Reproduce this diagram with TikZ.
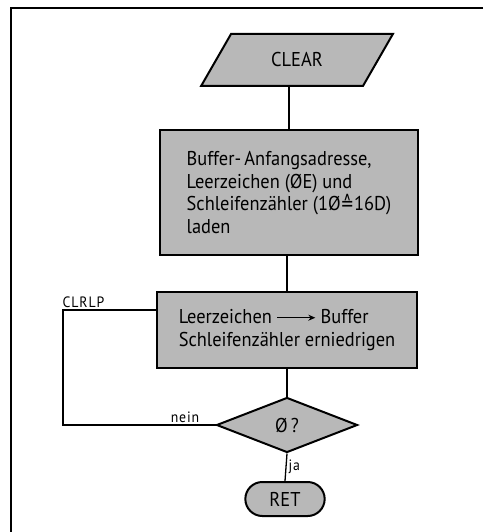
\documentclass[tikz,border=0pt]{standalone}
\usepackage{fontspec}
\setmainfont{PT Sans}[FakeStretch=0.92]
\newfontfamily\symfont{DejaVu Sans}[FakeStretch=0.8]
\usetikzlibrary{calc}
\usetikzlibrary{positioning}
\usetikzlibrary{arrows.meta}
\usetikzlibrary{shapes.geometric}
\usetikzlibrary{shapes.misc}
\definecolor{boxgray}{gray}{0.72}

\tikzset{
  flow/.style={draw=black, line width=2pt, fill=boxgray, font=\fontsize{20}{22.5}\selectfont},
  procbox/.style={flow, rectangle, align=left},
  iobox/.style={flow, trapezium, trapezium left angle=58, trapezium right angle=122, trapezium stretches=true},
  testbox/.style={flow, diamond, inner sep=0pt},
  termbox/.style={flow, rounded rectangle},
  link/.style={line width=1.3pt},
  lbl/.style={font=\fontsize{15}{17}\selectfont\addfontfeature{LetterSpace=6}, inner sep=2pt},
}

\begin{document}
\begin{tikzpicture}[x=1pt, y=-1pt]
  \useasboundingbox (0,0) rectangle (483,532);
  % frame
  \draw[line width=2.5pt] (483,8) -- (11,8) -- (11,532);

  \node[iobox, minimum width=192, minimum height=52] (clear) at (297,60) {CLEAR};
  \node[procbox, minimum width=258, minimum height=125] (load) at (289,192.5)
    {Buffer-\,Anfangsadresse,\\Leerzeichen (ØE) und\\Schleifenzähler (1Ø{\symfont ≙}16D)\\laden};
  \node[procbox, minimum width=260, minimum height=76] (fill) at (287,330)
    {Leerzeichen \tikz[baseline=-0.6ex]\draw[-{Stealth[length=7pt,width=6pt]}, line width=1pt] (0,0) -- (38pt,0); Buffer\\Schleifenzähler erniedrigen};
  \node[testbox, minimum width=141, minimum height=55] (test) at (287,425) {Ø\,?};
  \node[termbox, minimum width=86, minimum height=34] (ret) at (285,499) {RET};

  \coordinate (lp) at (63,310);

  \draw[link] (clear.south -| load.north) -- (load.north);
  \draw[link] (load.south -| fill.north) -- (fill.north);
  \draw[link] (fill.south) -- (test.north);
  \draw[link] (test.south) -- node[lbl, right] (ja) {ja} (ret.north);
  \draw[link] (test.west) -- node[lbl, above, pos=0.2] (nein) {nein} (test.west -| lp) -- (lp)
    -- node[lbl, above, pos=0.22] (clrlp) {CLRLP} (lp -| fill.west);
\end{tikzpicture}
\end{document}
